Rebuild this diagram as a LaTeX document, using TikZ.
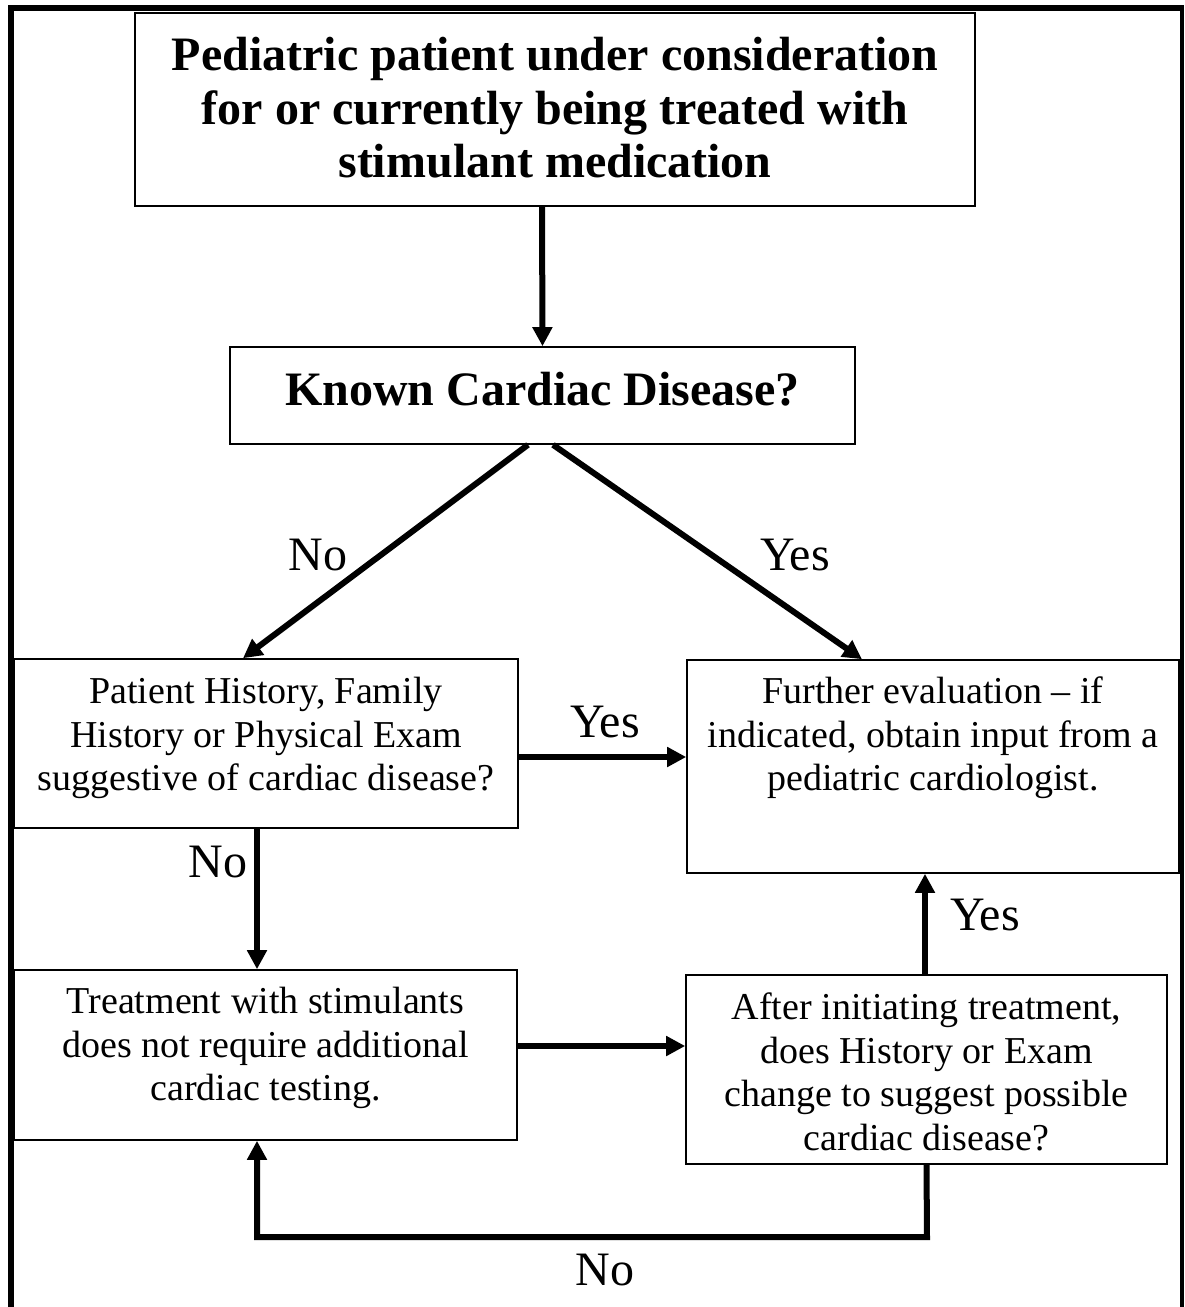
\documentclass[tikz,border=0pt]{standalone}
\usepackage{fontspec}
\setmainfont{Liberation Serif}
\usetikzlibrary{arrows.meta}
\tikzset{
  box/.style={draw, line width=1.6pt, rectangle, inner sep=0pt},
  body/.style={align=center, font=\fontsize{38}{43.5}\selectfont, inner sep=0pt},
  head/.style={align=center, font=\fontsize{48}{53.5}\selectfont\bfseries, inner sep=0pt},
  lbl/.style={font=\fontsize{48}{55}\selectfont, inner sep=0pt},
  arr/.style={line width=6pt, -{Triangle[length=19pt,width=19pt]}},
}
\begin{document}
\begin{tikzpicture}[x=1pt,y=1pt]
\useasboundingbox (0,0) rectangle (1185,-1307);
\fill[white] (0,0) rectangle (1185,-1307);
% outer frame
\draw[line width=6pt] (11,-1307) -- (11,-8) -- (1182,-8);
\draw[line width=4.5pt] (1182,-5) -- (1182,-1307);
% boxes
\node[box, minimum width=840pt, minimum height=193pt] (top) at (555,-109.5) {};
\node[head] (topt) at (555,-108) {Pediatric patient under consideration\\for or currently being treated with\\stimulant medication};
\node[box, minimum width=625pt, minimum height=97pt] (known) at (542.5,-395.5) {};
\node[lbl, font=\fontsize{48}{55}\selectfont\bfseries] (knownt) at (542.5,-389) {Known Cardiac Disease?};
\node[box, minimum width=504pt, minimum height=169pt] (lb1) at (266,-743.5) {};
\node[body] (lb1t) at (266,-738) {Patient History, Family\\History or Physical Exam\\suggestive of cardiac disease?};
\node[box, minimum width=492pt, minimum height=213pt] (rb1) at (933,-766.5) {};
\node[body] (rb1t) at (933,-738) {Further evaluation -- if\\indicated, obtain input from a\\pediatric cardiologist.};
\node[box, minimum width=503pt, minimum height=170pt] (lb2) at (265.5,-1055) {};
\node[body] (lb2t) at (265.5,-1048) {Treatment with stimulants\\does not require additional\\cardiac testing.};
\node[box, minimum width=481pt, minimum height=189pt] (rb2) at (926.5,-1069.5) {};
\node[body] (rb2t) at (926.5,-1072) {After initiating treatment,\\does History or Exam\\change to suggest possible\\cardiac disease?};
% connectors
\draw[arr] ([xshift=-13pt]top.south) -- (known.north);
\draw[arr] ([xshift=-14.5pt]known.south) -- ([xshift=-23pt]lb1.north);
\draw[arr] ([xshift=10.5pt]known.south) -- ([xshift=-71pt]rb1.north);
\draw[arr] ([yshift=-13.5pt]lb1.east) -- ([yshift=9.5pt]rb1.west);
\draw[arr] ([xshift=-9pt]lb1.south) -- ([xshift=-8.5pt]lb2.north);
\draw[arr] ([yshift=9pt]lb2.east) -- ([yshift=23.5pt]rb2.west);
\draw[arr] ([xshift=-1.5pt]rb2.north) -- ([xshift=-8pt]rb1.south);
\coordinate (loopR) at (927,-1237);
\draw[arr] (rb2.south) -- (loopR) -| ([xshift=-8.5pt]lb2.south);
% labels
\node[lbl] (l1) at (318,-555) {No};
\node[lbl] (l2) at (795,-555) {Yes};
\node[lbl] (l3) at (605,-722) {Yes};
\node[lbl] (l4) at (218,-862) {No};
\node[lbl] (l5) at (985,-915) {Yes};
\node[lbl] (l6) at (605,-1270) {No};
\end{tikzpicture}
\end{document}
